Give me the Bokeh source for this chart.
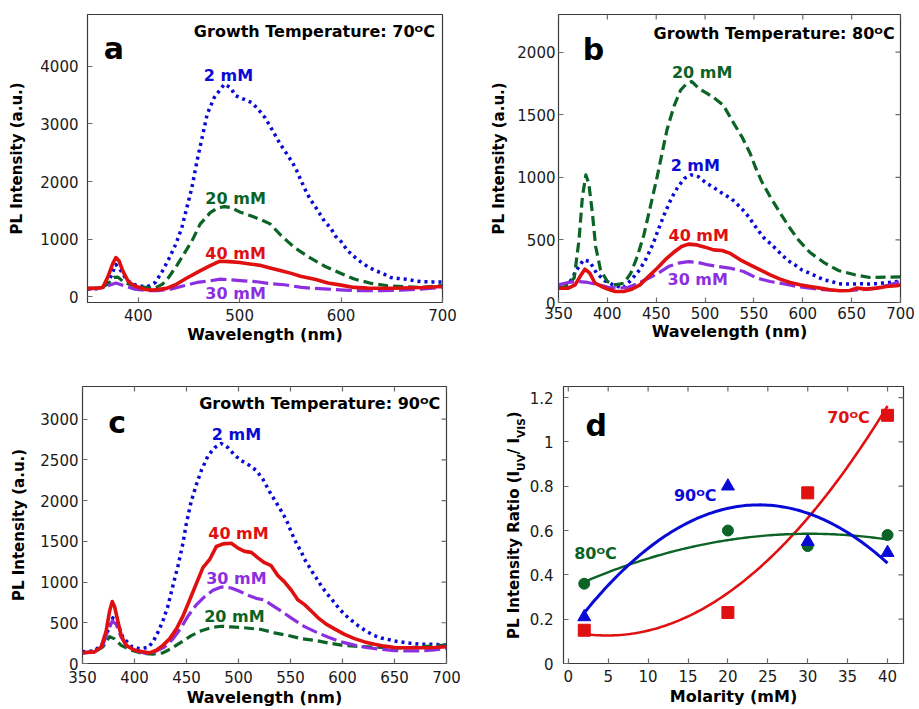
import numpy as np
from bokeh.plotting import figure
from bokeh.models import Range1d, FixedTicker, Label
from bokeh.layouts import column, row
from bokeh.embed import file_html
from bokeh.resources import INLINE

# ---------------- data ----------------
# Panel a: growth temperature 70 C
a_2mM_wl = [350,360,368,373,378,383,389,399,409,417,424,430,437,443,448,453,458,463,468,475,481,485,491,496,504,512,519,525,532,540,548,552,556,562,566,570,574,579,584,590,594,600,606,612,619,626,633,641,649,656,664,672,680,690,700]
a_2mM_pl = [133,140,180,350,560,450,280,190,173,250,450,650,910,1200,1550,1900,2360,2760,3170,3460,3600,3690,3630,3490,3430,3370,3240,3110,2900,2650,2440,2330,2200,1960,1810,1680,1580,1440,1300,1190,1060,960,810,710,610,525,460,405,335,318,305,278,260,258,255]
a_20mM_wl = [350,360,365,370,376,380,386,394,407,416,424,430,438,445,453,461,471,478,485,491,501,511,522,530,541,554,570,585,600,613,630,646,662,679,700]
a_20mM_pl = [145,150,170,220,335,340,250,200,162,145,220,335,540,740,970,1260,1460,1540,1565,1550,1465,1405,1330,1265,1060,855,670,520,405,307,231,191,173,162,195]
a_40mM_wl = [350,360,365,370,375,378,381,385,390,396,407,415,428,438,448,460,470,480,490,500,510,520,530,540,550,560,575,587,600,613,626,650,680,700]
a_40mM_pl = [145,150,160,340,580,680,625,440,270,190,127,115,145,220,325,440,530,615,610,595,570,545,500,455,410,355,300,237,202,162,150,148,160,178]
a_30mM_wl = [350,365,378,386,396,409,419,432,445,458,471,481,491,504,517,528,544,561,574,587,603,620,640,659,679,700]
a_30mM_pl = [133,160,237,190,133,104,104,133,190,248,277,306,295,277,260,231,208,162,145,133,116,104,104,116,133,165]

# Panel b: growth temperature 80 C
b_20mM_wl = [350,357,366,371,374.5,378,381,384.7,388,393,400,408.5,417,424,430.6,437.4,444,451,456,461,468,475,481.5,486.5,493.4,502,510,518.6,527.5,537.7,546.2,551.3,558.1,566.6,576.1,585.3,595.5,607.4,622.7,636.3,653.3,668.6,684,700]
b_20mM_pl = [114,128,194,500,846,1019,952,713,447,261,168,141,154,234,367,540,766,1005,1192,1378,1564,1697,1750,1764,1710,1670,1630,1577,1455,1323,1190,1084,964,845,725,611,500,399,314,256,221,200,202,205]
b_2mM_wl = [350,360,368.7,375.5,382,389,397.5,406,416,424.5,433,440,447,452,458.8,465.6,472.4,479,486,493,501.6,510,520,526,532,538.7,544.5,549.6,554.7,560.5,567.3,573.4,579.5,586.3,592.8,598.9,606.7,614.2,621.7,629.5,636.3,644.1,651.6,659,667,674.4,681.5,689,700]
b_2mM_pl = [114,141,261,340,327,234,173,141,114,181,261,354,473,580,713,833,926,992,1019,1005,952,912,859,835,792,739,686,627,572,514,468,421,373,328,296,261,235,208,181,168,150,147,147,150,147,150,155,160,170]
b_40mM_wl = [350,360,367,372,377,382,387.4,394,401,408,416.6,425,433.4,442,451,459,467.6,476,483,491.6,500,508.7,517.3,525.8,536,546,556.4,566.6,576.8,587,597,607.4,617.6,627.8,638,648,655,665,675.4,685.6,695.8,700]
b_40mM_pl = [114,114,141,207,266,234,154,128,106,88,88,106,141,207,274,340,399,447,466,460,442,420,415,392,341,301,261,221,187,160,142,128,115,102,94,96,115,107,115,128,134,140]
b_30mM_wl = [350,360,370,380,391,401,411,421.6,432,442,452,462.5,472.6,483,493,503.4,513.5,525,539.4,553,566.6,580,593.8,607.4,621,634.6,648,661.8,675.4,689,700]
b_30mM_pl = [141,160,168,160,141,122,114,122,154,194,234,287,314,327,319,300,287,275,248,195,168,150,128,115,102,96,96,102,115,142,168]

# Panel c: growth temperature 90 C
c_2mM_wl = [350,361.6,369.6,374.4,379.2,384,388.8,396.8,404.8,412.8,417.7,422.5,427.3,432,437,441.8,446.6,449.8,454.6,459.4,464.3,470.7,477,483.5,490,496.3,502.7,510.8,517,523.4,530.8,535.3,539.4,543.6,546.8,550,552.9,556.4,560.3,563.5,567.3,571.5,575.6,580.1,585.3,590.7,596.2,601.9,608.3,615.4,622.8,630.1,637.2,644.5,651.6,659.6,667.6,675.6,683.7,691.7,700]
c_2mM_pl = [143,155,243,402,561,481,322,211,183,195,263,382,521,700,959,1197,1476,1714,1993,2192,2371,2550,2649,2701,2649,2558,2490,2430,2371,2263,2088,1996,1909,1817,1738,1638,1551,1459,1372,1280,1201,1113,1034,942,854,771,683,603,532,460,396,345,313,293,273,257,245,237,237,233,225]
c_40mM_wl = [350,361.6,368,372.8,376,378.6,380.8,384,387.2,392,400,408,414.5,421,427.3,433.7,440.2,446.6,453,459.4,465.8,472.3,478.7,485.1,493.1,499.5,505.9,512.3,518.7,525,531.4,537.8,544.2,550.6,557,563.5,569.9,576.3,584.3,592.3,601.9,611.5,621.2,630.8,640.4,650,662.8,675.6,688.5,700]
c_40mM_pl = [131,143,203,402,640,760,700,521,342,223,163,143,131,163,223,302,422,581,780,979,1177,1277,1436,1468,1476,1416,1376,1364,1297,1237,1200,1081,1002,902,783,723,644,564,484,425,357,305,265,237,213,197,193,193,197,205]
c_30mM_wl = [350,361.6,369.6,374.4,378.6,382.4,387.2,393.6,403,411,419,429,437,445,451.4,459.4,467.4,475.5,483.5,493,501,509,517,525,531.4,541,552.3,563.5,574.7,585.9,598.7,611.5,624.4,637.2,650,662.8,675.6,688.5,700]
c_30mM_pl = [131,143,223,402,521,481,322,203,151,123,143,203,302,442,581,720,820,899,939,927,887,839,800,780,723,643,544,452,385,325,265,225,193,174,158,154,154,166,185]
c_20mM_wl = [350,361.6,369.6,376,380.8,387.2,396.8,408,417.7,427.3,435.3,445,454.6,464.3,473.9,483.5,493,502.7,512.3,521.8,534.6,547.4,560.3,573.1,585.9,598.7,611.5,624.4,637.2,650,662.8,675.6,688.5,700]
c_20mM_pl = [131,143,203,330,302,223,163,123,115,131,183,263,342,402,442,457,449,442,430,418,376,345,305,285,253,225,213,205,197,189,193,205,217,225]

# Panel d: PL intensity ratio vs molarity
molarity = [2, 20, 30, 40]
ratio_70C = [0.15, 0.23, 0.77, 1.12]
ratio_80C = [0.36, 0.60, 0.53, 0.58]
ratio_90C = [0.21, 0.80, 0.55, 0.50]

# tick values
wl_ticks_a = [400, 500, 600, 700]
pl_ticks_a = [0, 1000, 2000, 3000, 4000]
wl_ticks = [350, 400, 450, 500, 550, 600, 650, 700]
pl_ticks_b = [0, 500, 1000, 1500, 2000]
pl_ticks_c = [0, 500, 1000, 1500, 2000, 2500, 3000]
mol_ticks = [0, 5, 10, 15, 20, 25, 30, 35, 40]
ratio_ticks = [0, 0.2, 0.4, 0.6, 0.8, 1.0, 1.2]

# ---------------- style ----------------
BLUE = "#0a0ad6"
GREEN = "#0b6426"
RED = "#e01010"
PURPLE = "#8c2fe0"
TICK = "#6a6a6a"
FONT = "DejaVu Sans"
SUP = "\u1d3c"  # superscript O


def make_fig(width, height, xr, yr, l, r, t, b):
    p = figure(width=width, height=height, x_range=Range1d(*xr), y_range=Range1d(*yr),
               output_backend="svg", toolbar_location=None,
               min_border_left=l, min_border_right=r, min_border_top=t, min_border_bottom=b)
    p.xgrid.visible = False
    p.ygrid.visible = False
    p.outline_line_color = "#3a3a3a"
    p.outline_line_width = 1.2
    p.background_fill_color = "white"
    p.border_fill_color = "white"
    return p


def style_axis(ax, ticks, standoff, label_text=None, label_size="16px", label_standoff=0):
    ax.ticker = FixedTicker(ticks=ticks)
    ax.axis_line_color = None
    ax.major_tick_in = 5
    ax.major_tick_out = 0
    ax.major_tick_line_color = TICK
    ax.major_tick_line_width = 1.2
    ax.minor_tick_line_color = None
    ax.major_label_standoff = standoff
    ax.major_label_text_font = FONT
    ax.major_label_text_font_size = "15px"
    ax.major_label_text_color = "#1a1a1a"
    ax.axis_label_text_font = FONT
    ax.axis_label_text_font_style = "bold"
    ax.axis_label_text_font_size = label_size
    ax.axis_label_text_color = "black"
    ax.axis_label_standoff = label_standoff
    if label_text is not None:
        ax.axis_label = label_text


def mirror(p, xt, yt):
    # inward tick marks on the top and right frame edges (outer half is clipped by the frame)
    ytop = p.y_range.end
    xright = p.x_range.end
    p.scatter(xt, [ytop] * len(xt), marker="dash", angle=np.pi / 2, size=10,
              line_color=TICK, line_width=1.2)
    p.scatter([xright] * len(yt), yt, marker="dash", size=10,
              line_color=TICK, line_width=1.2)


def txt(p, x, y, text, color="black", size="16px", align="center", baseline="middle"):
    p.add_layout(Label(x=x, y=y, text=text, text_color=color, text_font=FONT,
                       text_font_style="bold", text_font_size=size,
                       text_align=align, text_baseline=baseline))


def spectra(p, series):
    styles = {
        "blue": dict(line_color=BLUE, line_width=3.5, line_dash="3 4", line_cap="butt"),
        "green": dict(line_color=GREEN, line_width=3.2, line_dash="10 5", line_cap="butt"),
        "purple": dict(line_color=PURPLE, line_width=3.2, line_dash="16 5", line_cap="butt"),
        "red": dict(line_color=RED, line_width=3.6),
    }
    for key in ["blue", "green", "purple", "red"]:
        wl, pl = series[key]
        p.line(wl, pl, line_join="round", **styles[key])


# ---------------- panel a ----------------
pa = make_fig(470, 346, (350, 700), (-100, 4900), 87, 28, 12, 44)
style_axis(pa.xaxis[0], wl_ticks_a, 6, label_text="Wavelength (nm)", label_standoff=1)
style_axis(pa.yaxis[0], pl_ticks_a, 9, label_text="PL Intensity (a.u.)", label_size="15px", label_standoff=11)
spectra(pa, {"blue": (a_2mM_wl, a_2mM_pl), "green": (a_20mM_wl, a_20mM_pl),
             "purple": (a_30mM_wl, a_30mM_pl), "red": (a_40mM_wl, a_40mM_pl)})
txt(pa, 692.5, 4610, "Growth Temperature: 70" + SUP + "C", align="right")
txt(pa, 376, 4315, "a", size="30px")
txt(pa, 489, 3847, "2 mM", BLUE)
txt(pa, 496, 1711, "20 mM", GREEN)
txt(pa, 496, 757, "40 mM", RED)
txt(pa, 496, 57, "30 mM", PURPLE)

# ---------------- panel b ----------------
pb = make_fig(449, 346, (350, 700), (0, 2300), 88, 19, 14, 43)
style_axis(pb.xaxis[0], wl_ticks, 4, label_text="Wavelength (nm)")
style_axis(pb.yaxis[0], pl_ticks_b, 3, label_text="PL Intensity (a.u.)", label_size="15px", label_standoff=6)
spectra(pb, {"blue": (b_2mM_wl, b_2mM_pl), "green": (b_20mM_wl, b_20mM_pl),
             "purple": (b_30mM_wl, b_30mM_pl), "red": (b_40mM_wl, b_40mM_pl)})
mirror(pb, wl_ticks, pl_ticks_b)
txt(pb, 694, 2148, "Growth Temperature: 80" + SUP + "C", align="right")
txt(pb, 385.7, 2021, "b", size="30px")
txt(pb, 497, 1835, "20 mM", GREEN)
txt(pb, 490, 1092, "2 mM", BLUE)
txt(pb, 493.5, 534, "40 mM", RED)
txt(pb, 492.5, 182, "30 mM", PURPLE)

# ---------------- panel c ----------------
pc = make_fig(470, 363, (350, 700), (0, 3400), 82, 24, 36, 42)
style_axis(pc.xaxis[0], wl_ticks, 7, label_text="Wavelength (nm)", label_standoff=2)
style_axis(pc.yaxis[0], pl_ticks_c, 4, label_text="PL Intensity (a.u.)", label_size="15px", label_standoff=9)
spectra(pc, {"blue": (c_2mM_wl, c_2mM_pl), "green": (c_20mM_wl, c_20mM_pl),
             "purple": (c_30mM_wl, c_30mM_pl), "red": (c_40mM_wl, c_40mM_pl)})
mirror(pc, wl_ticks, pl_ticks_c)
txt(pc, 694, 3188, "Growth Temperature: 90" + SUP + "C", align="right")
txt(pc, 383.4, 2961, "c", size="30px")
txt(pc, 498, 2807, "2 mM", BLUE)
txt(pc, 500, 1598, "40 mM", RED)
txt(pc, 498, 1049, "30 mM", PURPLE)
txt(pc, 496, 572, "20 mM", GREEN)

# ---------------- panel d ----------------
# narrow strip (frame aligned with panel d's frame) carrying the rotated y-axis label with subscripts
pdl = figure(width=56, height=363, x_range=Range1d(0, 56), y_range=Range1d(0, 277),
             output_backend="svg", toolbar_location=None,
             x_axis_location=None, y_axis_location=None,
             min_border_left=0, min_border_right=0, min_border_top=40, min_border_bottom=46)
pdl.xgrid.visible = False
pdl.ygrid.visible = False
pdl.outline_line_color = None
pdl.border_fill_color = "white"
pieces = [
    ("PL Intensity Ratio (I", "15px", 43.0, 24.4),
    ("UV", "10.5px", 50.0, 192.6),
    ("/ I", "15px", 43.0, 209.3),
    ("VIS", "10.5px", 50.0, 225.6),
    (")", "15px", 43.0, 245.2),
]
for t, sz, sx, sy in pieces:
    pdl.add_layout(Label(x=sx, y=sy, text=t, angle=90, angle_units="deg",
                         text_font=FONT, text_font_style="bold", text_font_size=sz,
                         text_color="black", text_align="left", text_baseline="alphabetic"))

pd_ = make_fig(393, 363, (-0.6, 42), (0, 1.25), 36, 16, 40, 46)
style_axis(pd_.xaxis[0], mol_ticks, 6, label_text="Molarity (mM)", label_standoff=2)
style_axis(pd_.yaxis[0], ratio_ticks, 10)
pd_.yaxis[0].major_label_overrides = {0: "0", 1: "1"}

xfit = np.linspace(min(molarity), max(molarity), 120)
for vals, col, lw in [(ratio_70C, RED, 2.6), (ratio_80C, GREEN, 2.4), (ratio_90C, BLUE, 3.0)]:
    coef = np.polyfit(molarity, vals, 2)
    pd_.line(xfit, np.polyval(coef, xfit), line_color=col, line_width=lw)

pd_.scatter(molarity, ratio_70C, marker="square", size=12, fill_color=RED, line_color=RED)
pd_.scatter(molarity, ratio_80C, marker="circle", size=11, fill_color=GREEN, line_color=GREEN)
pd_.scatter(molarity, ratio_90C, marker="triangle", size=13, fill_color=BLUE, line_color=BLUE)
mirror(pd_, mol_ticks, ratio_ticks)

txt(pd_, 3.5, 1.073, "d", size="30px")
txt(pd_, 35.1, 1.109, "70" + SUP + "C", RED)
txt(pd_, 15.9, 0.757, "90" + SUP + "C", BLUE)
txt(pd_, 3.4, 0.495, "80" + SUP + "C", GREEN)

layout = column(row(pa, pb), row(pc, pdl, pd_))
open("out.html", "w").write(file_html(layout, INLINE))
